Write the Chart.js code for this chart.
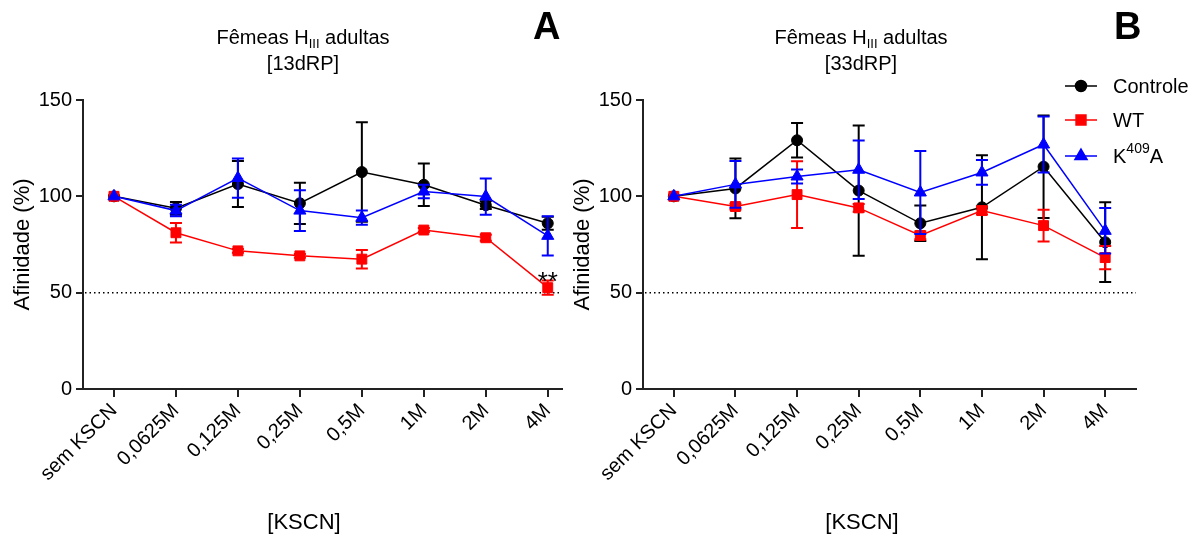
<!DOCTYPE html>
<html>
<head>
<meta charset="utf-8">
<script src="https://cdn.jsdelivr.net/npm/chart.js@4.4.1/dist/chart.umd.min.js"></script>
<style>
    body { margin: 0; background: #fff; font-family: "Liberation Sans", Arial, sans-serif; }
    #wrap { position: relative; width: 1198px; height: 536px; overflow: hidden; }
    canvas { position: absolute; top: 0; }
    #chartA { left: 0; }
    #chartB { left: 560px; }
    .ttl { position: absolute; top: 24px; width: 300px; text-align: center; font-size: 20px; line-height: 26px; color: #000; }
    .ttl sub { font-size: 13px; vertical-align: -4px; line-height: 0; }
    .xt { position: absolute; top: 511px; width: 200px; text-align: center; font-size: 22px; line-height: 22px; color: #000; }
    .pl { position: absolute; top: 7px; font-size: 38px; line-height: 38px; font-weight: bold; color: #000; }
</style>
</head>
<body>
<div id="wrap">
    <canvas id="chartA" width="600" height="536"></canvas>
    <canvas id="chartB" width="638" height="536"></canvas>
    <div class="ttl" style="left:153px">Fêmeas H<sub>III</sub> adultas<br>[13dRP]</div>
    <div class="ttl" style="left:711px">Fêmeas H<sub>III</sub> adultas<br>[33dRP]</div>
    <div class="xt" style="left:204px">[KSCN]</div>
    <div class="xt" style="left:762px">[KSCN]</div>
    <div class="pl" style="left:533px">A</div>
    <div class="pl" style="left:1114px">B</div>
</div>
<script>
const categories = ['sem KSCN', '0,0625M', '0,125M', '0,25M', '0,5M', '1M', '2M', '4M'];
const yTicks = [0, 50, 100, 150];
const refValue = 50;

// painel A - 13dRP
const ctrlA    = [100, 93.8, 106.4, 96.4, 112.6, 106.0, 95.4, 86.0];
const ctrlAErr = [0, 3.3, 12.0, 10.7, 25.8, 11.0, 2.0, 3.4];
const wtA      = [100, 81.1, 71.7, 69.1, 67.4, 82.5, 78.5, 52.6];
const wtAErr   = [0, 5.0, 1.0, 1.0, 4.8, 1.0, 1.5, 3.7];
const kA       = [100, 92.6, 109.5, 92.6, 88.9, 102.5, 99.9, 79.5];
const kAErr    = [0, 3.0, 10.2, 10.6, 3.7, 3.5, 9.4, 10.2];

// painel B - 33dRP
const ctrlB    = [100, 104.1, 129.1, 103.0, 86.0, 94.3, 115.4, 76.2];
const ctrlBErr = [0, 15.5, 9.0, 33.8, 9.2, 27.0, 26.6, 20.7];
const wtB      = [100, 94.7, 100.9, 94.0, 79.7, 92.6, 84.8, 68.2];
const wtBErr   = [0, 1.5, 17.3, 2.0, 2.0, 2.0, 8.2, 6.0];
const kB       = [100, 106.2, 110.3, 113.8, 102.0, 112.4, 126.9, 82.1];
const kBErr    = [0, 12.1, 3.6, 15.2, 21.5, 6.4, 14.5, 11.8];

const seriesNames = ['Controle', 'WT', 'K409A'];
const starsA = [{ dataset: 1, index: 7, text: '**' }];

const FONT = '"Liberation Sans", Arial, sans-serif';

function toPoints(vals) {
    return vals.map((v, i) => ({ x: i, y: v }));
}

function makeDatasets(ctrl, ctrlErr, wt, wtErr, k, kErr) {
    return [
        {
            label: seriesNames[0], data: toPoints(ctrl), errors: ctrlErr,
            borderColor: '#000000', backgroundColor: '#000000',
            pointStyle: 'circle', pointRadius: 5.5, order: 2
        },
        {
            label: seriesNames[1], data: toPoints(wt), errors: wtErr,
            borderColor: '#ff0000', backgroundColor: '#ff0000',
            pointStyle: 'rect', pointRadius: 7, order: 1
        },
        {
            label: seriesNames[2], data: toPoints(k), errors: kErr,
            borderColor: '#0000ff', backgroundColor: '#0000ff',
            pointStyle: 'triangle', pointRadius: 7, order: 0
        }
    ].map(ds => Object.assign(ds, { borderWidth: 1.5, pointBorderWidth: 1, tension: 0, fill: false }));
}

// barras de erro, desenhadas antes de cada série
const errorBars = {
    id: 'errorBars',
    beforeDatasetDraw(chart, args) {
        const ds = chart.data.datasets[args.index];
        if (!ds.errors) return;
        const yScale = chart.scales.y;
        const c = chart.ctx;
        c.save();
        c.strokeStyle = ds.borderColor;
        c.lineWidth = 2;
        args.meta.data.forEach((pt, i) => {
            const e = ds.errors[i];
            if (!e) return;
            const v = ds.data[i].y;
            const top = yScale.getPixelForValue(v + e);
            const bot = yScale.getPixelForValue(v - e);
            c.beginPath();
            c.moveTo(pt.x, top); c.lineTo(pt.x, bot);
            c.moveTo(pt.x - 6, top); c.lineTo(pt.x + 6, top);
            c.moveTo(pt.x - 6, bot); c.lineTo(pt.x + 6, bot);
            c.stroke();
        });
        c.restore();
    }
};

// linha pontilhada em 50%
const refLine = {
    id: 'refLine',
    beforeDatasetsDraw(chart) {
        const area = chart.chartArea;
        const y = chart.scales.y.getPixelForValue(refValue);
        const c = chart.ctx;
        c.save();
        c.strokeStyle = '#000';
        c.lineWidth = 1.5;
        c.setLineDash([1.5, 3]);
        c.beginPath();
        c.moveTo(area.left + 2, y);
        c.lineTo(area.right, y);
        c.stroke();
        c.restore();
    }
};

const stars = {
    id: 'stars',
    afterDatasetsDraw(chart, args, opts) {
        if (!opts.items) return;
        const c = chart.ctx;
        c.save();
        c.fillStyle = '#000';
        c.font = '26px ' + FONT;
        c.textAlign = 'center';
        c.textBaseline = 'alphabetic';
        opts.items.forEach(it => {
            const ds = chart.data.datasets[it.dataset];
            const pt = chart.getDatasetMeta(it.dataset).data[it.index];
            const top = chart.scales.y.getPixelForValue(ds.data[it.index].y + ds.errors[it.index]);
            c.fillText(it.text, pt.x, top + 9);
        });
        c.restore();
    }
};

const legendBox = {
    id: 'legendBox',
    afterDraw(chart, args, opts) {
        if (!opts.show) return;
        const c = chart.ctx;
        const area = chart.chartArea;
        const x0 = area.right - 71;
        const rows = [0, 34, 70];
        c.save();
        chart.data.datasets.forEach((ds, i) => {
            const y = area.top - 14 + rows[i];
            c.strokeStyle = ds.borderColor;
            c.lineWidth = 1.5;
            c.beginPath();
            c.moveTo(x0, y); c.lineTo(x0 + 32, y);
            c.stroke();
            c.fillStyle = ds.backgroundColor;
            Chart.helpers.drawPoint(c, {
                pointStyle: ds.pointStyle, radius: ds.pointRadius, rotation: 0, borderWidth: 1
            }, x0 + 16, y);
            c.fillStyle = '#000';
            c.textBaseline = 'middle';
            c.textAlign = 'left';
            c.font = '20px ' + FONT;
            let tx = x0 + 48;
            if (ds.label === 'K409A') {
                c.fillText('K', tx, y + 1);
                tx += c.measureText('K').width;
                c.font = '14px ' + FONT;
                c.fillText('409', tx, y - 7);
                tx += c.measureText('409').width;
                c.font = '20px ' + FONT;
                c.fillText('A', tx, y + 1);
            } else {
                c.fillText(ds.label, tx, y + 1);
            }
        });
        c.restore();
    }
};

function createChart(id, datasets, xMax, padRight, starItems, showLegend) {
    const ctx = document.getElementById(id).getContext('2d');
    return new Chart(ctx, {
        type: 'line',
        data: { datasets: datasets },
        options: {
            responsive: false,
            animation: false,
            layout: { padding: { top: 100, right: padRight, bottom: 0, left: 0 } },
            scales: {
                x: {
                    type: 'linear',
                    min: -0.5,
                    max: xMax,
                    afterBuildTicks: s => { s.ticks = categories.map((c, i) => ({ value: i })); },
                    afterFit: s => { s.height = 147; },
                    border: { display: true, color: '#222', width: 2 },
                    grid: { drawOnChartArea: false, drawTicks: true, tickLength: 8, color: '#222', lineWidth: 2 },
                    ticks: {
                        minRotation: 45, maxRotation: 45, padding: 2, color: '#000',
                        font: { family: FONT, size: 20 },
                        callback: v => categories[v]
                    }
                },
                y: {
                    min: 0,
                    max: 150,
                    afterBuildTicks: s => { s.ticks = yTicks.map(v => ({ value: v })); },
                    afterFit: s => { s.width = 83; },
                    border: { display: true, color: '#222', width: 2 },
                    grid: { drawOnChartArea: false, drawTicks: true, tickLength: 7, color: '#222', lineWidth: 2 },
                    ticks: { padding: 4, color: '#000', font: { family: FONT, size: 20 } },
                    title: {
                        display: true, text: 'Afinidade (%)', color: '#000',
                        font: { family: FONT, size: 22 }, padding: { top: 10, bottom: 0 }
                    }
                }
            },
            plugins: {
                legend: { display: false },
                tooltip: { enabled: false },
                stars: { items: starItems },
                legendBox: { show: showLegend }
            }
        },
        plugins: [refLine, errorBars, stars, legendBox]
    });
}

createChart('chartA', makeDatasets(ctrlA, ctrlAErr, wtA, wtAErr, kA, kAErr), 7.23, 38, starsA, false);
createChart('chartB', makeDatasets(ctrlB, ctrlBErr, wtB, wtBErr, kB, kBErr), 7.5, 62, null, true);
</script>
</body>
</html>
